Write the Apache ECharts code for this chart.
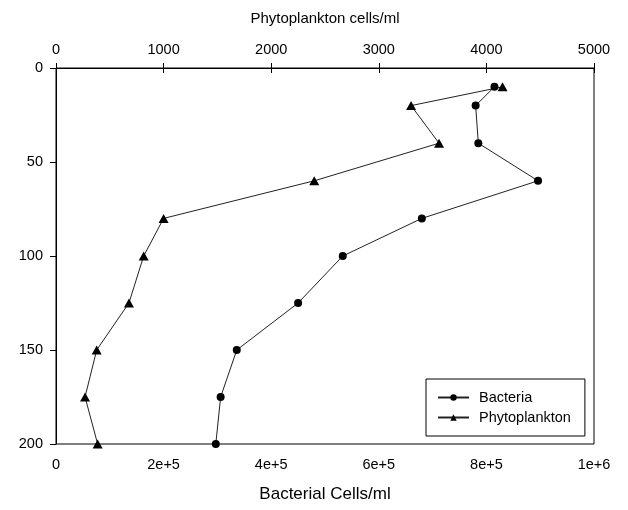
<!DOCTYPE html>
<html>
<head>
<meta charset="utf-8">
<script src="https://cdn.jsdelivr.net/npm/echarts@6/dist/echarts.min.js"></script>
<style>html,body{margin:0;padding:0;background:#fff;}#c{width:628px;height:510px;}</style>
</head>
<body>
<div id="c"></div>
<script>
const depths = [10, 20, 40, 60, 80, 100, 125, 150, 175, 200];
const bacteria = [815000, 780000, 785000, 896000, 680000, 533000, 450000, 336000, 306000, 297000];
const phytoplankton = [4150, 3300, 3560, 2400, 1000, 815, 678, 378, 270, 387];
const bottomTicks = ['0', '2e+5', '4e+5', '6e+5', '8e+5', '1e+6'];
const topTicks = ['0', '1000', '2000', '3000', '4000', '5000'];
const depthTicks = ['0', '50', '100', '150', '200'];

const FONT = 'Liberation Sans, Arial, sans-serif';
const chart = echarts.init(document.getElementById('c'));
const axisCommon = {
  axisLine: {show: true, lineStyle: {color: '#000', width: 1}},
  axisTick: {show: true, inside: false, length: 5, lineStyle: {color: '#000'}},
  splitLine: {show: false},
  axisLabel: {color: '#000', fontFamily: FONT, fontSize: 14.5},
  nameTextStyle: {color: '#000', fontFamily: FONT}
};
chart.setOption({
  animation: false,
  backgroundColor: '#fff',
  grid: {left: 56, right: 34, top: 68, bottom: 66, show: true, borderColor: '#000', borderWidth: 1},
  legend: {
    orient: 'vertical', left: 426, top: 379,
    data: ['Bacteria', 'Phytoplankton'],
    borderColor: '#000', borderWidth: 1, borderRadius: 0,
    padding: [11, 14, 11, 11],
    itemWidth: 31, itemHeight: 8, itemGap: 5,
    textStyle: {color: '#000', fontFamily: FONT, fontSize: 14.5, padding: [0, 0, 0, 5]}
  },
  xAxis: [
    Object.assign({}, axisCommon, {
      type: 'value', position: 'bottom', min: 0, max: 1000000, interval: 200000,
      name: 'Bacterial Cells/ml', nameLocation: 'middle', nameGap: 42,
      nameTextStyle: {color: '#000', fontFamily: FONT, fontSize: 17},
      axisLabel: Object.assign({}, axisCommon.axisLabel, {margin: 13, formatter: (v) => bottomTicks[Math.round(v / 200000)]})
    }),
    Object.assign({}, axisCommon, {
      type: 'value', position: 'top', min: 0, max: 5000, interval: 1000,
      name: 'Phytoplankton cells/ml', nameLocation: 'middle', nameGap: 42,
      nameTextStyle: {color: '#000', fontFamily: FONT, fontSize: 15},
      axisLabel: Object.assign({}, axisCommon.axisLabel, {margin: 11, formatter: (v) => topTicks[Math.round(v / 1000)]})
    })
  ],
  yAxis: [
    Object.assign({}, axisCommon, {
      type: 'value', inverse: true, min: 0, max: 200, interval: 50,
      axisTick: {show: true, inside: false, length: 6, lineStyle: {color: '#000'}},
      axisLabel: Object.assign({}, axisCommon.axisLabel, {margin: 13, formatter: (v) => depthTicks[Math.round(v / 50)]})
    })
  ],
  series: [
    {
      name: 'Bacteria', type: 'line', xAxisIndex: 0, yAxisIndex: 0,
      data: depths.map((d, i) => [bacteria[i], d]),
      symbol: 'circle', symbolSize: 8,
      itemStyle: {color: '#000'}, lineStyle: {color: '#222', width: 1}
    },
    {
      name: 'Phytoplankton', type: 'line', xAxisIndex: 1, yAxisIndex: 0,
      data: depths.map((d, i) => [phytoplankton[i], d]),
      symbol: 'triangle', symbolSize: [10, 9],
      itemStyle: {color: '#000'}, lineStyle: {color: '#222', width: 1}
    }
  ]
});
</script>
</body>
</html>
